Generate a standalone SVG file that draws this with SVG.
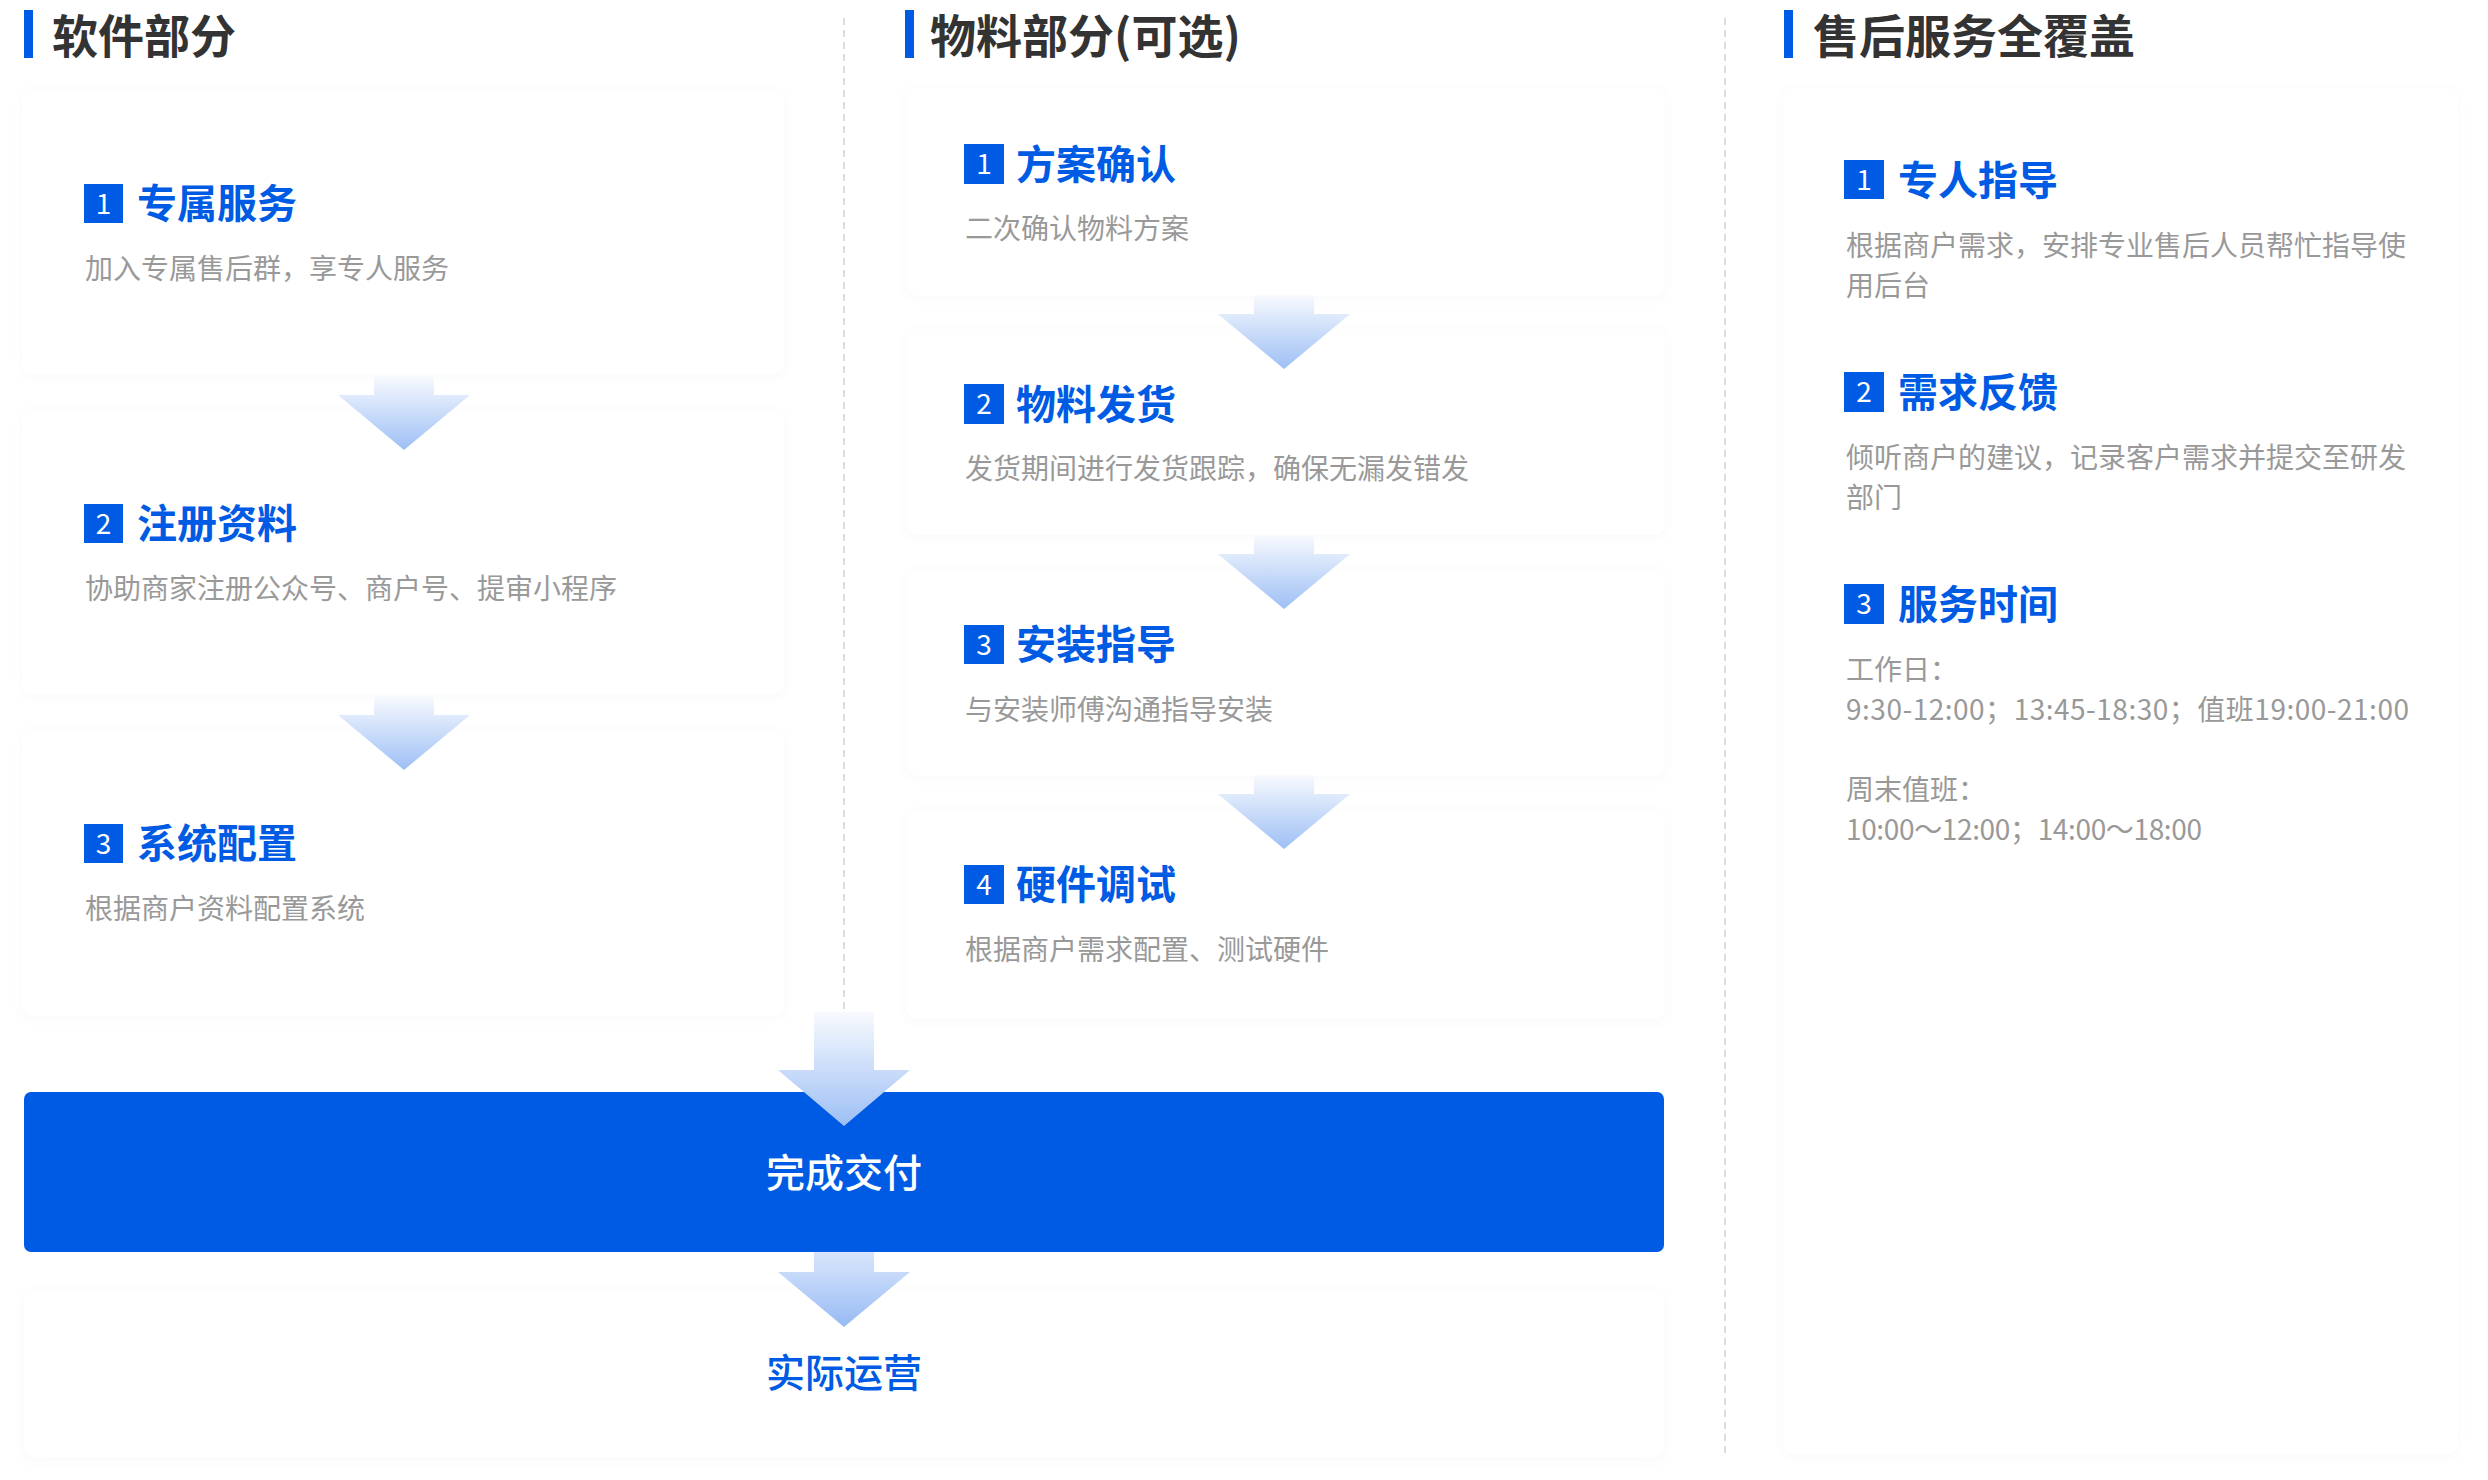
<svg xmlns="http://www.w3.org/2000/svg" xmlns:xlink="http://www.w3.org/1999/xlink" width="2488" height="1480" viewBox="0 0 2488 1480">
<style>
text{font-family:"Noto Sans CJK SC","Noto Sans",sans-serif}
.h{font-size:46px;font-weight:700;fill:#333333}
.t{font-size:40px;font-weight:700;fill:#005be4}
.n{font-size:28px;fill:#ffffff;text-anchor:middle}
.d{font-size:28px;fill:#999999}
.bar{fill:#005be4}
.box{fill:#005be4}
.card{fill:#ffffff;filter:url(#sh)}
.dash{stroke:#dddddd;stroke-width:2;stroke-dasharray:7 5;fill:none}
</style>
<defs>
<filter id="sh" x="-5%" y="-10%" width="110%" height="125%">
<feDropShadow dx="0" dy="2" stdDeviation="5" flood-color="#7f90b5" flood-opacity="0.06"/>
</filter>
<linearGradient id="ga" x1="0" y1="0" x2="0" y2="1">
<stop offset="0" stop-color="#f8fafe"/>
<stop offset="1" stop-color="#9dbff5"/>
</linearGradient>
<linearGradient id="gb" x1="0" y1="0" x2="0" y2="1">
<stop offset="0" stop-color="#d9e6fb"/>
<stop offset="1" stop-color="#97baf4"/>
</linearGradient>
<path id="arr" d="M-30,0 H30 V19 H66 L0,74 L-66,19 H-30 Z" fill="url(#ga)"/>
</defs>

<rect width="2488" height="1480" fill="#ffffff"/>

<!-- dividers -->
<line class="dash" x1="844" y1="18" x2="844" y2="1011"/>
<line class="dash" x1="1725" y1="18" x2="1725" y2="1455"/>

<!-- headers -->
<g id="header-software">
<rect class="bar" x="24" y="10" width="9" height="48"/>
<text class="h" x="52" y="53">软件部分</text>
</g>
<g id="header-material">
<rect class="bar" x="905" y="10" width="9" height="48"/>
<text class="h" x="930" y="53">物料部分(可选)</text>
</g>
<g id="header-service">
<rect class="bar" x="1784" y="10" width="9" height="48"/>
<text class="h" x="1813" y="53">售后服务全覆盖</text>
</g>

<!-- left column -->
<g id="sw-1">
<rect class="card" x="22" y="90" width="762" height="284" rx="12"/>
<rect class="box" x="84" y="184" width="39" height="39"/>
<text class="n" x="103.5" y="214">1</text>
<text class="t" x="137" y="218">专属服务</text>
<text class="d" x="85" y="279">加入专属售后群，享专人服务</text>
</g>
<g id="sw-2">
<rect class="card" x="22" y="410" width="762" height="284" rx="12"/>
<rect class="box" x="84" y="504" width="39" height="39"/>
<text class="n" x="103.5" y="534">2</text>
<text class="t" x="137" y="538">注册资料</text>
<text class="d" x="85" y="599">协助商家注册公众号、商户号、提审小程序</text>
</g>
<g id="sw-3">
<rect class="card" x="22" y="730" width="762" height="286" rx="12"/>
<rect class="box" x="84" y="824" width="39" height="39"/>
<text class="n" x="103.5" y="854">3</text>
<text class="t" x="137" y="858">系统配置</text>
<text class="d" x="85" y="919">根据商户资料配置系统</text>
</g>

<!-- middle column -->
<g id="mt-1">
<rect class="card" x="907" y="88" width="758" height="208" rx="12"/>
<rect class="box" x="964" y="144" width="40" height="40"/>
<text class="n" x="984" y="174">1</text>
<text class="t" x="1016" y="179">方案确认</text>
<text class="d" x="965" y="239">二次确认物料方案</text>
</g>
<g id="mt-2">
<rect class="card" x="907" y="329" width="758" height="206" rx="12"/>
<rect class="box" x="964" y="384" width="40" height="40"/>
<text class="n" x="984" y="414">2</text>
<text class="t" x="1016" y="419">物料发货</text>
<text class="d" x="965" y="479">发货期间进行发货跟踪，确保无漏发错发</text>
</g>
<g id="mt-3">
<rect class="card" x="907" y="570" width="758" height="206" rx="12"/>
<rect class="box" x="964" y="625" width="40" height="39"/>
<text class="n" x="984" y="655">3</text>
<text class="t" x="1016" y="659">安装指导</text>
<text class="d" x="965" y="720">与安装师傅沟通指导安装</text>
</g>
<g id="mt-4">
<rect class="card" x="907" y="811" width="758" height="208" rx="12"/>
<rect class="box" x="964" y="865" width="40" height="39"/>
<text class="n" x="984" y="895">4</text>
<text class="t" x="1016" y="899">硬件调试</text>
<text class="d" x="965" y="960">根据商户需求配置、测试硬件</text>
</g>

<!-- right column -->
<g id="service">
<rect class="card" x="1783" y="88" width="675" height="1366" rx="12"/>
<rect class="box" x="1844" y="160" width="40" height="39"/>
<text class="n" x="1864" y="190">1</text>
<text class="t" x="1898" y="195">专人指导</text>
<text class="d" x="1846" y="256">根据商户需求，安排专业售后人员帮忙指导使</text>
<text class="d" x="1846" y="296">用后台</text>
<rect class="box" x="1844" y="372" width="40" height="40"/>
<text class="n" x="1864" y="402">2</text>
<text class="t" x="1898" y="407">需求反馈</text>
<text class="d" x="1846" y="468">倾听商户的建议，记录客户需求并提交至研发</text>
<text class="d" x="1846" y="508">部门</text>
<rect class="box" x="1844" y="584" width="40" height="40"/>
<text class="n" x="1864" y="614">3</text>
<text class="t" x="1898" y="619">服务时间</text>
<text class="d" x="1846" y="680">工作日：</text>
<text class="d" x="1846" y="720" textLength="563" lengthAdjust="spacing">9:30-12:00；13:45-18:30；值班19:00-21:00</text>
<text class="d" x="1846" y="800">周末值班：</text>
<text class="d" x="1846" y="840" textLength="356" lengthAdjust="spacing">10:00～12:00；14:00～18:00</text>
</g>

<!-- bottom -->
<g id="delivery">
<rect x="24" y="1092" width="1640" height="160" rx="7" fill="#005be4"/>
<text x="844" y="1187" text-anchor="middle" font-size="39" font-weight="500" fill="#ffffff">完成交付</text>
</g>
<g id="operation">
<rect class="card" x="24" y="1290" width="1640" height="168" rx="12"/>
<text x="844" y="1387" text-anchor="middle" font-size="39" font-weight="500" fill="#005be4">实际运营</text>
</g>

<!-- connectors -->
<g id="connectors">
<use xlink:href="#arr" x="404" y="376"/>
<use xlink:href="#arr" x="404" y="696"/>
<use xlink:href="#arr" x="1284" y="295"/>
<use xlink:href="#arr" x="1284" y="535"/>
<use xlink:href="#arr" x="1284" y="775"/>
<path d="M814,1012 H874 V1070 H910 L844,1126 L778,1070 H814 Z" fill="url(#ga)"/>
<path d="M814,1252 H874 V1272 H910 L844,1327 L778,1272 H814 Z" fill="url(#gb)"/>
</g>
</svg>
